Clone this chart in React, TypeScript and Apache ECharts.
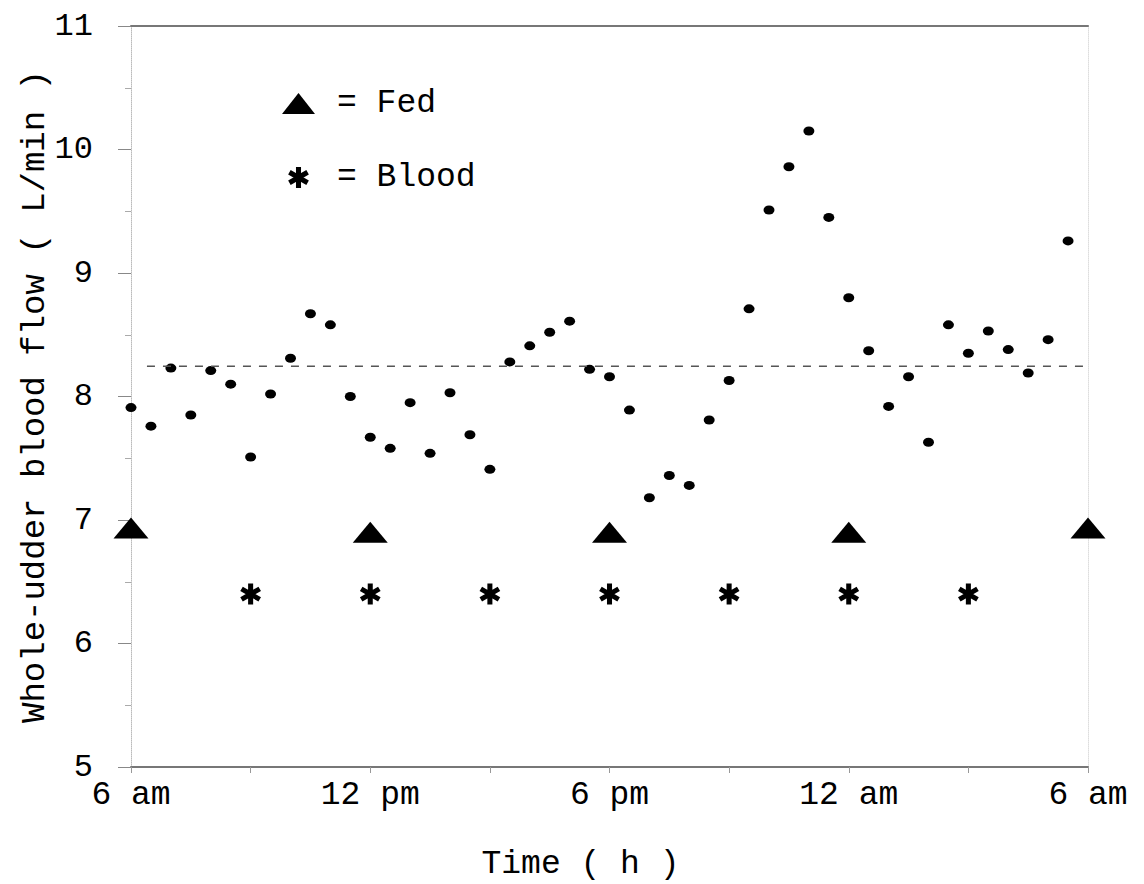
import React, { useEffect, useRef } from "react";
import * as echarts from "echarts";

// Time after 6 am (h), one measurement every 30 min
const hours = [
  0, 0.5, 1, 1.5, 2, 2.5, 3, 3.5, 4, 4.5, 5, 5.5,
  6, 6.5, 7, 7.5, 8, 8.5, 9, 9.5, 10, 10.5, 11, 11.5,
  12, 12.5, 13, 13.5, 14, 14.5, 15, 15.5, 16, 16.5, 17, 17.5,
  18, 18.5, 19, 19.5, 20, 20.5, 21, 21.5, 22, 22.5, 23, 23.5,
];
// Whole-udder blood flow (L/min)
const flow = [
  7.91, 7.76, 8.23, 7.85, 8.21, 8.1, 7.51, 8.02, 8.31, 8.67, 8.58, 8.0,
  7.67, 7.58, 7.95, 7.54, 8.03, 7.69, 7.41, 8.28, 8.41, 8.52, 8.61, 8.22,
  8.16, 7.89, 7.18, 7.36, 7.28, 7.81, 8.13, 8.71, 9.51, 9.86, 10.15, 9.45,
  8.8, 8.37, 7.92, 8.16, 7.63, 8.58, 8.35, 8.53, 8.38, 8.19, 8.46, 9.26,
];
const fedHours = [0, 6, 12, 18, 24];
const fedLevel = [6.935, 6.9, 6.9, 6.9, 6.935];
const bloodHours = [3, 6, 9, 12, 15, 18, 21];
const bloodLevel = [6.4, 6.4, 6.4, 6.4, 6.4, 6.4, 6.4];
const meanFlow = 8.245;
const meanSpan = [0.4, 24];
const xTickValues = [0, 6, 12, 18, 24];
const xTickLabels = ["6 am", "12 pm", "6 pm", "12 am", "6 am"];

const FONT = '"Liberation Mono", "Courier New", monospace';
const ELLIPSE = "path://M0,50 A50,50 0 1,0 100,50 A50,50 0 1,0 0,50 Z";
const ASTERISK =
  "path://M38,0 L62,0 L62,100 L38,100 Z " +
  "M0.7,35.39 L12.7,14.61 L99.3,64.61 L87.3,85.39 Z " +
  "M12.7,85.39 L0.7,64.61 L87.3,14.61 L99.3,35.39 Z";

const BLACK = { color: "#000", opacity: 1 };

export default function App() {
  const ref = useRef<HTMLDivElement>(null);
  useEffect(() => {
    if (!ref.current) return;
    const chart = echarts.init(ref.current, undefined, { renderer: "svg" });
    const option: any = {
      animation: false,
      backgroundColor: "#ffffff",
      textStyle: { fontFamily: FONT, color: "#000" },
      grid: { left: 131, right: 56, top: 26, bottom: 117, containLabel: false, outerBoundsMode: "none" },
      legend: {
        orient: "vertical",
        left: 282,
        top: 87,
        padding: 0,
        itemGap: 41,
        itemWidth: 33,
        itemHeight: 21,
        selectedMode: false,
        formatter: (n: string) => "= " + n,
        textStyle: {
          fontFamily: FONT,
          fontSize: 33,
          color: "#000",
          padding: [0, 0, 0, 17],
        },
        data: [
          { name: "Fed", icon: "triangle", itemStyle: BLACK },
          { name: "Blood", icon: ASTERISK, itemStyle: BLACK },
        ],
      },
      xAxis: [
        {
          type: "value",
          position: "bottom",
          min: 0,
          max: 24,
          interval: 3,
          name: "Time ( h )",
          nameLocation: "middle",
          nameGap: 81,
          nameMoveOverlap: false,
          nameTextStyle: { fontFamily: FONT, fontSize: 33, color: "#000", padding: [0, 58, 0, 0] },
          axisLine: { show: true, onZero: false, lineStyle: { color: "#777", width: 2 } },
          axisTick: { show: true, length: 6, lineStyle: { color: "#999", width: 1 } },
          splitLine: { show: false },
          axisLabel: {
            fontFamily: FONT,
            fontSize: 33,
            color: "#000",
            margin: 12,
            showMinLabel: true,
            showMaxLabel: true,
            formatter: (v: number) => {
              const i = xTickValues.indexOf(v);
              return i >= 0 ? xTickLabels[i] : "";
            },
          },
        },
        {
          type: "value",
          position: "top",
          min: 0,
          max: 24,
          axisLine: { show: true, onZero: false, lineStyle: { color: "#777", width: 2 } },
          axisTick: { show: false },
          axisLabel: { show: false },
          splitLine: { show: false },
        },
      ],
      yAxis: [
        {
          type: "value",
          position: "left",
          min: 5,
          max: 11,
          interval: 1,
          name: "Whole-udder blood flow ( L/min )",
          nameLocation: "middle",
          nameGap: 79,
          nameMoveOverlap: false,
          nameTextStyle: { fontFamily: FONT, fontSize: 34, color: "#000" },
          axisLine: { show: true, onZero: false, lineStyle: { color: "#bbb", width: 1, type: "dotted" } },
          axisTick: { show: true, length: 13, lineStyle: { color: "#888", width: 1 } },
          minorTick: { show: true, splitNumber: 2, length: 6, lineStyle: { color: "#aaa", width: 1 } },
          splitLine: { show: false },
          axisLabel: {
            fontFamily: FONT,
            fontSize: 32,
            color: "#000",
            margin: 38,
            padding: [0, 0, 10, 0],
          },
        },
        {
          type: "value",
          position: "right",
          min: 5,
          max: 11,
          axisLine: { show: true, onZero: false, lineStyle: { color: "#ddd", width: 1, type: "dotted" } },
          axisTick: { show: false },
          axisLabel: { show: false },
          splitLine: { show: false },
        },
      ],
      series: [
        {
          name: "Mean",
          type: "line",
          symbol: "none",
          silent: true,
          data: meanSpan.map((h) => [h, meanFlow]),
          lineStyle: { color: "#555", width: 1.5, type: [8, 8] },
        },
        {
          name: "Flow",
          type: "scatter",
          clip: false,
          symbol: ELLIPSE,
          symbolSize: [11, 9],
          itemStyle: BLACK,
          data: hours.map((h, i) => [h, flow[i]]),
        },
        {
          name: "Fed",
          type: "scatter",
          clip: false,
          symbol: "triangle",
          symbolSize: [35, 21],
          itemStyle: BLACK,
          data: fedHours.map((h, i) => [h, fedLevel[i]]),
        },
        {
          name: "Blood",
          type: "scatter",
          clip: false,
          symbol: ASTERISK,
          symbolSize: [21, 21],
          symbolKeepAspect: true,
          itemStyle: BLACK,
          data: bloodHours.map((h, i) => [h, bloodLevel[i]]),
        },
      ],
    };
    chart.setOption(option);
    return () => chart.dispose();
  }, []);
  return (
    <div
      ref={ref}
      style={{ position: "fixed", left: 0, top: 0, width: 1144, height: 884, background: "#fff" }}
    />
  );
}
